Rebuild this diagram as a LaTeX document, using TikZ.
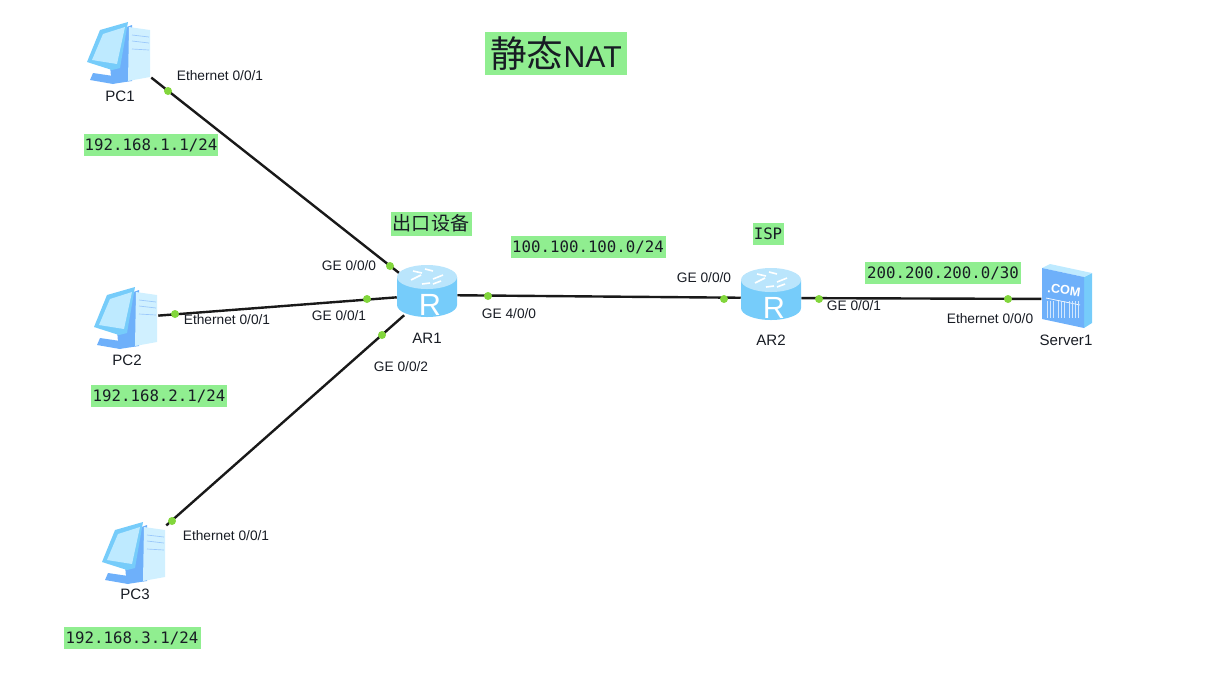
\documentclass[tikz,border=0pt]{standalone}
\usepackage{fontspec}
\setmainfont{Liberation Sans}
\setmonofont{DejaVu Sans Mono}
\newfontfamily\cjkfont{Noto Sans CJK SC}
\usetikzlibrary{positioning}
\definecolor{darktext}{RGB}{24,28,36}
\definecolor{notegreen}{RGB}{144,238,144}
\definecolor{portgreen}{RGB}{130,214,60}
\definecolor{iconblue}{RGB}{110,176,250}
\definecolor{iconsky}{RGB}{118,204,250}
\definecolor{iconpale}{RGB}{190,234,255}
\definecolor{iconwhite}{RGB}{208,240,255}
\tikzset{
link/.style={draw=black!90, line width=1.8pt},
portdot/.style={circle, fill=portgreen, inner sep=0pt, minimum size=6pt},
portlabel/.style={font=\fontsize{10.3pt}{12pt}\selectfont, text=darktext, inner sep=0pt},
devlabel/.style={font=\fontsize{11.3pt}{13pt}\selectfont, text=darktext, inner sep=0pt},
notelabel/.style={fill=notegreen, font=\ttfamily\fontsize{11.8pt}{13pt}\selectfont, text=darktext, inner sep=0pt, minimum height=16.5pt},
cjklabel/.style={fill=notegreen, font=\cjkfont\fontsize{14.3pt}{16pt}\selectfont, text=darktext, inner sep=0pt, minimum height=18pt},
pcbox/.style={minimum width=46.5pt, minimum height=46.5pt, inner sep=0pt},
routerbox/.style={minimum width=45pt, minimum height=30pt, inner sep=0pt},
serverbox/.style={minimum width=38pt, minimum height=45pt, inner sep=0pt},
pics/pcicon/.style={code={
  \fill[iconblue] (-4,-22) -- (12,-28) -- (12,28) -- (-8,31) -- cycle;
  \fill[iconwhite] (9,-26) -- (30,-23) -- (30,24) -- (8,28) -- cycle;
  \draw[iconblue!70, line width=0.5pt] (12,-18) -- (29,-16) (12,-12) -- (29,-10) (12,-4) -- (29,-3);
  \fill[iconblue] (-27,20) -- (7,25) -- (-7,31) -- (-30,27) -- cycle;
  \fill[iconblue] (-10,12) -- (-2,13) -- (-1,25) -- (-9,24) -- cycle;
  \fill[iconsky] (-33,9) -- (-20,-23) -- (8,-31) -- (0,15) -- (-8,17) -- cycle;
  \fill[iconpale] (-28,7) -- (-17,-19) -- (5,-26) -- (-3,11) -- cycle;
}},
pics/routericon/.style={code={
  \fill[iconsky] (-30,-18) -- (-30,10) arc[start angle=180, end angle=0, x radius=30, y radius=12] -- (30,-18) -- cycle;
  \fill[iconsky!50] (0,-18) ellipse[x radius=30, y radius=12];
  \draw[white, line width=1.2pt] (-16,-15) -- (-6,-20) (6,-24) -- (-2,-26) (16,-20) -- (6,-16) (-5,-11) -- (3,-12) (-14,-24) -- (-5,-22) (14,-14) -- (6,-11);
  \node[font=\fontsize{23pt}{26pt}\selectfont, text=white, inner sep=0pt] (rletter) at (3,10) {R};
}},
pics/servericon/.style={code={
  \fill[iconsky] (17,-22) -- (25,-26) -- (25,24) -- (17,29) -- cycle;
  \fill[iconpale] (-25,-31) -- (-17,-35) -- (25,-26) -- (17,-22) -- cycle;
  \fill[iconblue] (-25,-31) -- (17,-22) -- (17,29) -- (-25,20) -- cycle;
  \node[font=\bfseries\fontsize{9.5pt}{11pt}\selectfont, text=white, inner sep=0pt, rotate=-8] (comletter) at (-3,-9) {.COM};
  \draw[white, line width=0.5pt] (-21,-1) -- (13,6);
  \foreach \bx in {-20,-17,-14,-9,-6,-3,2,5,8,11} {
    \draw[white!70!iconblue, line width=0.6pt] (\bx,2) -- (\bx,19);
  }
}}
}
\begin{document}
\begin{tikzpicture}[x=0.75pt,y=-0.75pt]
\useasboundingbox (0,0) rectangle (1205,694);

\node[pcbox] (pcone) at (120,53) {};
\node[pcbox] (pctwo) at (127,318) {};
\node[pcbox] (pcthree) at (135,553) {};
\node[routerbox] (arone) at (427,295) {};
\node[routerbox] (artwo) at (771,298) {};
\node[serverbox] (serverone) at (1067,299) {};

\draw[link] (pcone) -- (arone);
\draw[link] (pctwo) -- (arone);
\draw[link] (pcthree) -- (arone);
\draw[link] (arone) -- (artwo);
\draw[link] (artwo) -- (serverone);

\pic at (pcone) {pcicon};
\pic at (pctwo) {pcicon};
\pic at (pcthree) {pcicon};
\pic at (arone) {routericon};
\pic at (artwo) {routericon};
\pic at (serverone) {servericon};

\foreach \n/\x/\y in {
1/168/91, 2/390/266, 3/367/299, 4/175/314, 5/382/335,
6/172/521, 7/488/296, 8/724/299, 9/819/299, 10/1008/299} {
  \node[portdot] (dot\n) at (\x,\y) {};
}

\foreach \n/\x/\y/\t in {
pcname1/120/96/PC1, pcname2/127/360/PC2, pcname3/135/594/PC3,
arname1/427/338/AR1, arname2/771/340/AR2, srvname/1066/340/Server1} {
  \node[devlabel] (\n) at (\x,\y) {\t};
}

\foreach \n/\x/\y/\t in {
ethone/220/76/Ethernet 0\slash 0\slash 1, ethtwo/227/320/Ethernet 0\slash 0\slash 1,
eththree/226/536/Ethernet 0\slash 0\slash 1, ethsrv/990/319/Ethernet 0\slash 0\slash 0,
geone/349/266/GE 0\slash 0\slash 0, getwo/339/316/GE 0\slash 0\slash 1,
gethree/401/367/GE 0\slash 0\slash 2, gefour/509/314/GE 4\slash 0\slash 0,
gefive/704/278/GE 0\slash 0\slash 0, gesix/854/306/GE 0\slash 0\slash 1} {
  \node[portlabel] (\n) at (\x,\y) {\t};
}

\foreach \n/\x/\y/\w/\t in {
noteone/151/145/134/192.168.1.1\slash 24, notetwo/159/396/136/192.168.2.1\slash 24,
notethree/132/638/137/192.168.3.1\slash 24, notefour/588/247/155/100.100.100.0\slash 24,
notefive/943/273/156/200.200.200.0\slash 30, noteisp/768/234/31/ISP} {
  \node[notelabel, minimum width=\w*0.75pt] (\n) at (\x,\y) {\t};
}

\node[cjklabel, minimum width=60.75pt] (noteexit) at (431,223.5) {出口设备};
\node[fill=notegreen, text=darktext, inner sep=0pt, minimum width=106.5pt, minimum height=32pt, font=\fontsize{22.6pt}{26pt}\selectfont] (titlenat) at (556,53.5) {{\cjkfont\fontsize{27.5pt}{30pt}\selectfont 静态}NAT};

\end{tikzpicture}
\end{document}
